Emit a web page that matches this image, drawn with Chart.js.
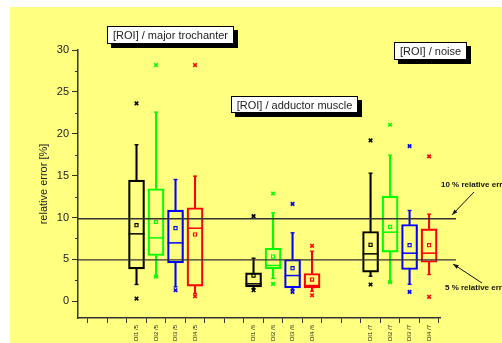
<!DOCTYPE html>
<html>
<head>
<meta charset="utf-8">
<script src="https://cdn.jsdelivr.net/npm/chart.js"></script>
<style>
  html, body { margin: 0; padding: 0; background: #fff; }
  #wrap { width: 502px; height: 343px; }
</style>
</head>
<body>
<div id="wrap"><canvas id="chart" width="502" height="343"></canvas></div>
<script>
// tick positions along the x axis (empty = unlabeled tick)
const tickLabels = ['', '', '', 'DI1 /5', 'DI2 /5', 'DI3 /5', 'DI4 /5', '', '',
  'DI1 /6', 'DI2 /6', 'DI3 /6', 'DI4 /6', '', '',
  'DI1 /7', 'DI2 /7', 'DI3 /7', 'DI4 /7'];
const yTicks = [0, 5, 10, 15, 20, 25, 30];

const seriesNames = ['DI1', 'DI2', 'DI3', 'DI4'];
const groups = ['/5', '/6', '/7'];
const colors = ['#000000', '#00ff00', '#0000ff', '#ff0000'];

// box statistics per series, one value per group (/5, /6, /7)
const whiskerLow = [[2.0, 1.5, 2.99], [2.95, 2.71, 2.27], [1.72, 1.4, 2.03], [0.92, 1.2, 3.19]];
const q1 = [[3.87, 1.72, 3.47], [5.46, 3.87, 5.86], [4.58, 1.6, 3.79], [1.8, 1.6, 4.66]];
const median = [[8.05, 2.08, 5.66], [7.57, 4.27, 8.25], [6.97, 3.07, 5.74], [8.72, 1.88, 5.74]];
const q3 = [[14.46, 3.39, 8.33], [13.43, 6.33, 12.55], [10.88, 4.98, 9.16], [11.16, 3.31, 8.65]];
const whiskerHigh = [[18.69, 5.14, 15.29], [22.58, 10.56, 17.44], [14.54, 8.17, 10.84], [14.94, 5.97, 10.4]];
const mean = [[9.08, 3.07, 6.74], [9.49, 5.34, 8.89], [8.72, 3.95, 6.69], [7.97, 2.59, 6.69]];
const outlierLow = [[0.32, 1.31, 2.0], [2.95, 2.08, 2.27], [1.31, 1.12, 1.12], [0.6, 0.72, 0.53]];
const outlierHigh = [[23.62, 10.16, 19.2], [28.2, 12.87, 21.07], [null, 11.63, 18.52], [28.2, 6.62, 17.3]];

// reference lines
const refLevels = [9.85, 4.95];
const refNotes = ['10 % relative error', '5 % relative error'];
const panelTitles = ['[ROI] / major trochanter', '[ROI] / adductor muscle', '[ROI] / noise'];

const xOf = (s, g) => tickLabels.indexOf(seriesNames[s] + ' ' + groups[g]);
const pts = (s, arr) => groups.map((g, gi) => ({ x: xOf(s, gi), y: arr[s][gi] })).filter(p => p.y !== null);

const datasets = [];
seriesNames.forEach((name, s) => {
  const c = colors[s];
  datasets.push({
    type: 'bar', label: name + ' box', grouped: false, barThickness: 16,
    data: groups.map((g, gi) => ({ x: xOf(s, gi), y: [q1[s][gi], q3[s][gi]] })),
    backgroundColor: 'rgba(0,0,0,0)', borderColor: c, borderWidth: 1.5, borderSkipped: false, order: 2
  });
  datasets.push({
    type: 'bar', label: name + ' upper', grouped: false, barThickness: 1.4,
    data: groups.map((g, gi) => ({ x: xOf(s, gi), y: [q3[s][gi], whiskerHigh[s][gi]] })),
    backgroundColor: c, borderWidth: 0, order: 3
  });
  datasets.push({
    type: 'bar', label: name + ' lower', grouped: false, barThickness: 1.4,
    data: groups.map((g, gi) => ({ x: xOf(s, gi), y: [whiskerLow[s][gi], q1[s][gi]] })),
    backgroundColor: c, borderWidth: 0, order: 3
  });
  datasets.push({
    type: 'scatter', label: name + ' median', data: pts(s, median),
    pointStyle: 'line', pointRadius: 8, borderColor: c, borderWidth: 1.5, order: 1
  });
  datasets.push({
    type: 'scatter', label: name + ' caps',
    data: pts(s, whiskerLow).concat(pts(s, whiskerHigh)),
    pointStyle: 'line', pointRadius: 2, borderColor: c, borderWidth: 1.3, order: 1
  });
  datasets.push({
    type: 'scatter', label: name + ' mean', data: pts(s, mean),
    pointStyle: 'rect', pointRadius: 2.2, backgroundColor: 'rgba(0,0,0,0)', borderColor: c, borderWidth: 1.1, order: 1
  });
  datasets.push({
    type: 'scatter', label: name + ' outliers',
    data: pts(s, outlierLow).concat(pts(s, outlierHigh)),
    pointStyle: 'crossRot', pointRadius: 2.5, borderColor: c, borderWidth: 1.6, order: 1
  });
});
refLevels.forEach((v, i) => {
  datasets.push({
    type: 'line', label: refNotes[i], data: [{ x: 0, y: v }, { x: 19.38, y: v }],
    borderColor: '#333', borderWidth: 1.3, pointRadius: 0, clip: false, order: 0
  });
});

function arrow(ctx, x1, y1, x2, y2) {
  ctx.beginPath(); ctx.moveTo(x1, y1); ctx.lineTo(x2, y2); ctx.stroke();
  const a = Math.atan2(y2 - y1, x2 - x1);
  ctx.beginPath();
  ctx.moveTo(x2, y2);
  ctx.lineTo(x2 - 6 * Math.cos(a - 0.35), y2 - 6 * Math.sin(a - 0.35));
  ctx.lineTo(x2 - 6 * Math.cos(a + 0.35), y2 - 6 * Math.sin(a + 0.35));
  ctx.closePath(); ctx.fill();
}

function labelBox(ctx, text, x, y, w, h) {
  ctx.fillStyle = '#000';
  ctx.fillRect(x + 4, y + 4, w, h);
  ctx.fillStyle = '#fff';
  ctx.fillRect(x, y, w, h);
  ctx.strokeStyle = '#000'; ctx.lineWidth = 1;
  ctx.strokeRect(x + 0.5, y + 0.5, w - 1, h - 1);
  ctx.fillStyle = '#222';
  ctx.font = '11px "Liberation Sans", Arial, sans-serif';
  ctx.textAlign = 'center'; ctx.textBaseline = 'middle';
  ctx.fillText(text, x + w / 2, y + h / 2 + 1);
}

const decor = {
  id: 'decor',
  beforeDraw(chart) {
    const ctx = chart.ctx;
    ctx.save();
    ctx.fillStyle = '#fff';
    ctx.fillRect(0, 0, chart.width, chart.height);
    ctx.fillStyle = '#ffff80';
    ctx.fillRect(10, 7, chart.width - 10, chart.height - 7);
    ctx.restore();
  },
  afterDraw(chart) {
    const ctx = chart.ctx, y = chart.scales.y, left = chart.chartArea.left;
    ctx.save();
    // minor ticks on y
    ctx.strokeStyle = '#333'; ctx.lineWidth = 1;
    for (let v = 2.5; v < 30; v += 5) {
      const py = Math.round(y.getPixelForValue(v)) + 0.5;
      ctx.beginPath(); ctx.moveTo(left - 3, py); ctx.lineTo(left, py); ctx.stroke();
    }
    labelBox(ctx, panelTitles[0], 107, 26, 127, 18);
    labelBox(ctx, panelTitles[1], 231, 96, 127, 17);
    labelBox(ctx, panelTitles[2], 394, 42, 73, 18);
    // notes for the reference lines
    ctx.fillStyle = '#111';
    ctx.font = 'bold 8px "Liberation Sans", Arial, sans-serif';
    ctx.textAlign = 'left'; ctx.textBaseline = 'alphabetic';
    ctx.fillText(refNotes[0], 441, 187);
    ctx.fillText(refNotes[1], 445, 290);
    ctx.strokeStyle = '#111'; ctx.fillStyle = '#111'; ctx.lineWidth = 1;
    arrow(ctx, 474, 192, 452, 215);
    arrow(ctx, 482, 283, 453, 264);
    ctx.restore();
  }
};

new Chart(document.getElementById('chart'), {
  type: 'bar',
  data: { datasets: datasets },
  options: {
    responsive: false,
    animation: false,
    layout: { padding: { left: 0, right: 62, top: 50, bottom: 0 } },
    plugins: { legend: { display: false }, tooltip: { enabled: false } },
    scales: {
      x: {
        type: 'linear', min: 0, max: 18.56, offset: false,
        afterBuildTicks: s => { s.ticks = tickLabels.map((l, i) => ({ value: i })); },
        afterFit: s => { s.height = 25; },
        grid: { drawOnChartArea: false, drawTicks: true, tickLength: 5, color: '#333', lineWidth: 1 },
        border: { display: true, color: '#333', width: 1.5 },
        ticks: {
          autoSkip: false, minRotation: 90, maxRotation: 90, padding: 2,
          color: '#222', font: { size: 6, family: '"Liberation Sans", Arial, sans-serif' },
          callback: v => tickLabels[v] || ''
        }
      },
      y: {
        type: 'linear', min: -2, max: 30,
        afterBuildTicks: s => { s.ticks = yTicks.map(v => ({ value: v })); },
        afterFit: s => { s.width = 78; },
        grid: { drawOnChartArea: false, drawTicks: true, tickLength: 6, color: '#333', lineWidth: 1 },
        border: { display: true, color: '#333', width: 1.5 },
        title: {
          display: true, text: 'relative error [%]', color: '#222',
          font: { size: 11, family: '"Liberation Sans", Arial, sans-serif' },
          padding: { top: 37, bottom: 0 }
        },
        ticks: {
          padding: 3, color: '#222',
          font: { size: 11, family: '"Liberation Sans", Arial, sans-serif' }
        }
      }
    }
  },
  plugins: [decor]
});
</script>
</body>
</html>
